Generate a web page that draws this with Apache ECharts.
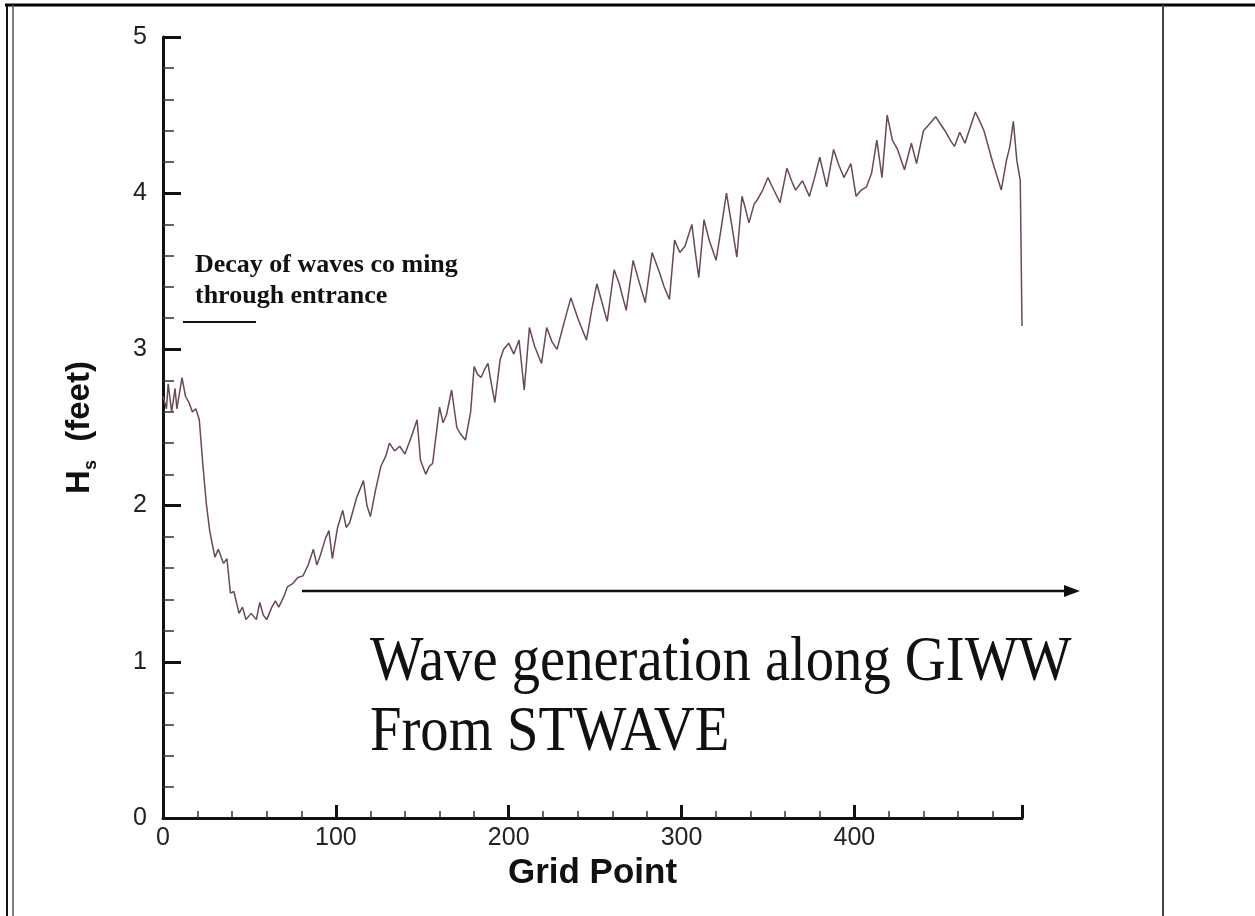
<!DOCTYPE html>
<html>
<head>
<meta charset="utf-8">
<script src="https://cdn.jsdelivr.net/npm/echarts@6/dist/echarts.min.js"></script>
<style>
html,body{margin:0;padding:0;background:#fff;}
#chart{width:1255px;height:916px;}
</style>
</head>
<body>
<div id="chart"></div>
<script>
// Grid point positions (x) and significant wave height Hs in feet (y)
const gridPoint = [0,2,3,5,7,8,11,13,15,17,19,21,23,25,27,30,32,35,37,39,41,44,46,48,51,54,56,58,60,63,65,67,70,72,75,78,81,84,87,89,91,94,96,98,101,104,106,108,112,116,118,120,123,126,129,131,134,137,140,144,147,149,152,154,156,160,162,164,167,170,172,175,178,180,182,184,186,188,190,192,195,197,200,203,206,209,212,215,219,222,225,228,232,236,240,245,248,251,254,257,261,264,268,272,275,279,283,287,290,293,296,299,302,306,308,310,313,316,320,323,326,329,332,335,337,339,342,344,347,350,353,357,361,364,366,370,374,377,380,384,388,391,394,398,401,404,407,410,413,416,419,422,425,429,433,436,440,444,447,450,453,456,458,461,464,467,470,473,475,480,485,488,490,492,494,496,497];
const hsFeet = [2.70,2.62,2.78,2.60,2.75,2.62,2.82,2.70,2.66,2.60,2.62,2.55,2.27,2.02,1.84,1.67,1.72,1.63,1.66,1.44,1.45,1.31,1.35,1.27,1.31,1.27,1.38,1.30,1.27,1.35,1.39,1.35,1.42,1.48,1.50,1.54,1.55,1.62,1.72,1.62,1.68,1.79,1.84,1.66,1.86,1.97,1.86,1.89,2.05,2.16,2.00,1.93,2.10,2.25,2.32,2.40,2.35,2.38,2.33,2.45,2.55,2.29,2.20,2.25,2.27,2.63,2.53,2.58,2.74,2.50,2.46,2.42,2.60,2.89,2.84,2.82,2.87,2.91,2.78,2.66,2.93,3.00,3.04,2.97,3.06,2.74,3.14,3.02,2.91,3.14,3.05,3.00,3.17,3.33,3.20,3.06,3.25,3.42,3.30,3.18,3.51,3.42,3.25,3.57,3.45,3.30,3.62,3.50,3.40,3.32,3.70,3.62,3.66,3.80,3.62,3.46,3.83,3.70,3.57,3.78,4.00,3.80,3.59,3.98,3.90,3.81,3.93,3.96,4.02,4.10,4.03,3.94,4.16,4.07,4.02,4.08,3.98,4.10,4.23,4.04,4.28,4.18,4.10,4.19,3.98,4.02,4.04,4.13,4.34,4.10,4.50,4.34,4.28,4.15,4.32,4.19,4.40,4.45,4.49,4.44,4.39,4.33,4.30,4.39,4.32,4.42,4.52,4.45,4.40,4.20,4.02,4.21,4.30,4.46,4.21,4.08,3.15];
const xTicks = [0,100,200,300,400];
const yTicks = [0,1,2,3,4,5];

const seriesData = gridPoint.map((g, i) => [g, hsFeet[i]]);

const chart = echarts.init(document.getElementById('chart'), null, {renderer: 'canvas'});
const axisFont = 'Liberation Sans, Arial, sans-serif';
const serif = 'Liberation Serif, Times New Roman, serif';

chart.setOption({
  backgroundColor: '#ffffff',
  animation: false,
  grid: {left: 163, right: 233, top: 37, bottom: 98, containLabel: false},
  xAxis: {
    type: 'value', min: 0, max: 497, interval: 100,
    name: 'Grid Point', nameLocation: 'middle', nameGap: 33,
    nameTextStyle: {fontFamily: axisFont, fontWeight: 'bold', fontSize: 35, color: '#111'},
    axisLine: {show: true, onZero: false, lineStyle: {color: '#111', width: 3}},
    axisTick: {show: true, inside: true, length: 13, lineStyle: {color: '#111', width: 3}},
    minorTick: {show: true, splitNumber: 5, length: 7, lineStyle: {color: '#333', width: 1.5}},
    axisLabel: {
      margin: 8, fontFamily: axisFont, fontSize: 25, color: '#222',
      formatter: v => (xTicks.indexOf(v) >= 0 ? String(v) : '')
    },
    splitLine: {show: false}
  },
  yAxis: {
    type: 'value', min: 0, max: 5, interval: 1,
    name: '{h|H}{s|s}{h|  (feet)}', nameLocation: 'middle', nameGap: 63, nameRotate: 90,
    nameTextStyle: {
      rich: {
        h: {fontFamily: axisFont, fontWeight: 'bold', fontSize: 33, color: '#111', lineHeight: 40},
        s: {fontFamily: axisFont, fontWeight: 'bold', fontSize: 18, color: '#111', lineHeight: 40, verticalAlign: 'bottom'}
      }
    },
    axisLine: {show: true, onZero: false, lineStyle: {color: '#111', width: 3}},
    axisTick: {show: true, inside: true, length: 18, lineStyle: {color: '#111', width: 3}},
    minorTick: {show: true, splitNumber: 5, length: 11, lineStyle: {color: '#333', width: 1.5}},
    axisLabel: {
      margin: 16, fontFamily: axisFont, fontSize: 25, color: '#222',
      formatter: v => (yTicks.indexOf(v) >= 0 ? String(v) : '')
    },
    splitLine: {show: false}
  },
  series: [{
    type: 'line',
    data: seriesData,
    showSymbol: false,
    smooth: false,
    lineStyle: {color: '#6a4856', width: 1.5},
    clip: false
  }],
  graphic: [
    // page frame
    {type: 'line', shape: {x1: 5, y1: 5, x2: 1255, y2: 5}, style: {stroke: '#000', lineWidth: 3}},
    {type: 'line', shape: {x1: 7, y1: 5, x2: 7, y2: 916}, style: {stroke: '#111', lineWidth: 2}},
    {type: 'line', shape: {x1: 13, y1: 5, x2: 13, y2: 916}, style: {stroke: '#555', lineWidth: 1.5}},
    {type: 'line', shape: {x1: 1163, y1: 5, x2: 1163, y2: 916}, style: {stroke: '#444', lineWidth: 2}},
    // annotation: decay text
    {type: 'text', x: 195, y: 252, style: {text: 'Decay of waves co ming', font: 'bold 26px ' + serif, fill: '#111'}},
    {type: 'text', x: 195, y: 283, style: {text: 'through entrance', font: 'bold 26px ' + serif, fill: '#111'}},
    {type: 'line', shape: {x1: 183, y1: 322, x2: 256, y2: 322}, style: {stroke: '#111', lineWidth: 2}},
    // arrow
    {type: 'line', shape: {x1: 302, y1: 591, x2: 1068, y2: 591}, style: {stroke: '#111', lineWidth: 2.5}},
    {type: 'polygon', shape: {points: [[1080, 591], [1064, 585], [1064, 597]]}, style: {fill: '#111'}},
    // big annotation
    {type: 'text', x: 370, y: 631, scaleX: 0.885, style: {text: 'Wave generation along GIWW', font: '64px ' + serif, fill: '#111'}},
    {type: 'text', x: 370, y: 701, scaleX: 0.885, style: {text: 'From STWAVE', font: '64px ' + serif, fill: '#111'}}
  ]
});
</script>
</body>
</html>
